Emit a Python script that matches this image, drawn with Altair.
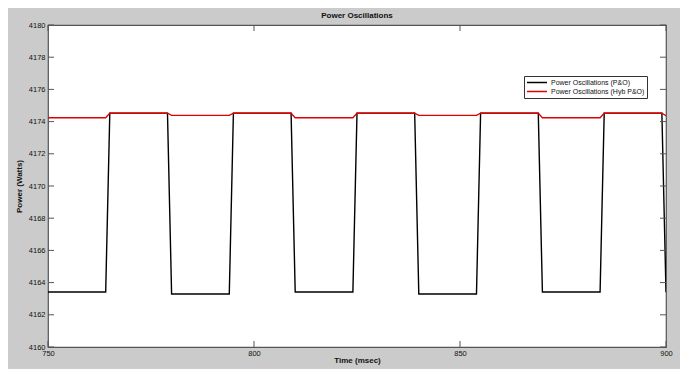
import altair as alt
import pandas as pd

# ---- data ----
time_ms = [750, 764, 765, 779, 780, 794, 795, 809, 810, 824, 825,
           839, 840, 854, 855, 869, 870, 884, 885, 899, 900]
power_po = [4163.42, 4163.42, 4174.52, 4174.52, 4163.29, 4163.29, 4174.52,
            4174.52, 4163.42, 4163.42, 4174.52, 4174.52, 4163.29, 4163.29,
            4174.52, 4174.52, 4163.42, 4163.42, 4174.52, 4174.52, 4163.40]
power_hyb = [4174.24, 4174.24, 4174.52, 4174.52, 4174.39, 4174.39, 4174.52,
             4174.52, 4174.24, 4174.24, 4174.52, 4174.52, 4174.39, 4174.39,
             4174.52, 4174.52, 4174.24, 4174.24, 4174.52, 4174.52, 4174.36]
series_names = ["Power Oscillations (P&O)", "Power Oscillations (Hyb P&O)"]
series_colors = ["#000000", "#e00000"]
x_ticks = [750, 800, 850, 900]
y_ticks = list(range(4160, 4181, 2))

df = pd.concat([
    pd.DataFrame({"t": time_ms, "p": power_po, "s": series_names[0]}),
    pd.DataFrame({"t": time_ms, "p": power_hyb, "s": series_names[1]}),
])
df_xt = pd.DataFrame({"t": x_ticks})
df_yt = pd.DataFrame({"p": y_ticks})

W, H = 618, 322
FONT = "Liberation Sans"
AX = "#555555"
TXT = "#111111"

xscale = alt.Scale(domain=[750, 900], nice=False, zero=False)
yscale = alt.Scale(domain=[4160, 4180], nice=False, zero=False)
cscale = alt.Scale(domain=series_names, range=series_colors)

xaxis = alt.Axis(values=x_ticks, format="d", ticks=False, domain=False,
                 grid=False, labelFontSize=7.5, labelPadding=2,
                 labelFlush=False, labelOverlap=False,
                 labelFont=FONT, labelColor=TXT,
                 title="Time (msec)", titleFontSize=8,
                 titleFont=FONT, titleFontWeight="bold",
                 titleColor=TXT, titlePadding=0)
yaxis = alt.Axis(values=y_ticks, format="d", ticks=False, domain=False,
                 grid=False, labelFontSize=7.5, labelPadding=3,
                 labelFlush=False, labelOverlap=False,
                 labelFont=FONT, labelColor=TXT,
                 title="Power (Watts)", titleFontSize=8,
                 titleFont=FONT, titleFontWeight="bold",
                 titleColor=TXT, titlePadding=5)

legend = alt.Legend(
    title=None, orient="none", legendX=476, legendY=51,
    fillColor="white", strokeColor="#333333", padding=2,
    symbolType="stroke", symbolSize=400, symbolStrokeWidth=1.5,
    labelFontSize=7, labelFont=FONT, labelColor=TXT,
    labelLimit=300, rowPadding=0, labelOffset=3, clipHeight=9,
)

base = alt.Chart(df)

def line_layer(name, width, show_legend):
    return base.transform_filter(alt.datum.s == name).mark_line(
        strokeWidth=width, clip=True
    ).encode(
        x=alt.X("t:Q", scale=xscale, axis=xaxis),
        y=alt.Y("p:Q", scale=yscale, axis=yaxis),
        color=alt.Color("s:N", scale=cscale, legend=legend if show_legend else None),
    )

po_line = line_layer(series_names[0], 1.4, True)
hyb_line = line_layer(series_names[1], 1.3, False)

tick_x_bottom = alt.Chart(df_xt).mark_rule(color=AX, strokeWidth=1).encode(
    x=alt.X("t:Q", scale=xscale, axis=xaxis), y=alt.value(H), y2=alt.value(H - 6))
tick_x_top = alt.Chart(df_xt).mark_rule(color=AX, strokeWidth=1).encode(
    x=alt.X("t:Q", scale=xscale, axis=xaxis), y=alt.value(0), y2=alt.value(6))
tick_y_left = alt.Chart(df_yt).mark_rule(color=AX, strokeWidth=1).encode(
    y=alt.Y("p:Q", scale=yscale, axis=yaxis), x=alt.value(0), x2=alt.value(6))
tick_y_right = alt.Chart(df_yt).mark_rule(color=AX, strokeWidth=1).encode(
    y=alt.Y("p:Q", scale=yscale, axis=yaxis), x=alt.value(W - 6), x2=alt.value(W))

chart = alt.layer(
    po_line, hyb_line, tick_x_bottom, tick_x_top, tick_y_left, tick_y_right
).properties(
    width=W, height=H,
    title=alt.TitleParams("Power Oscillations", fontSize=8, font=FONT,
                          fontWeight="bold", color=TXT, offset=1,
                          anchor="middle"),
    background="#cbcbcb",
    padding={"left": 40, "top": 17, "right": 14, "bottom": 22},
    autosize=alt.AutoSizeParams(type="none"),
).configure_view(
    fill="white", stroke=AX, strokeWidth=1.2
)

chart.save("out.html", embed_options={"renderer": "svg", "actions": False})
